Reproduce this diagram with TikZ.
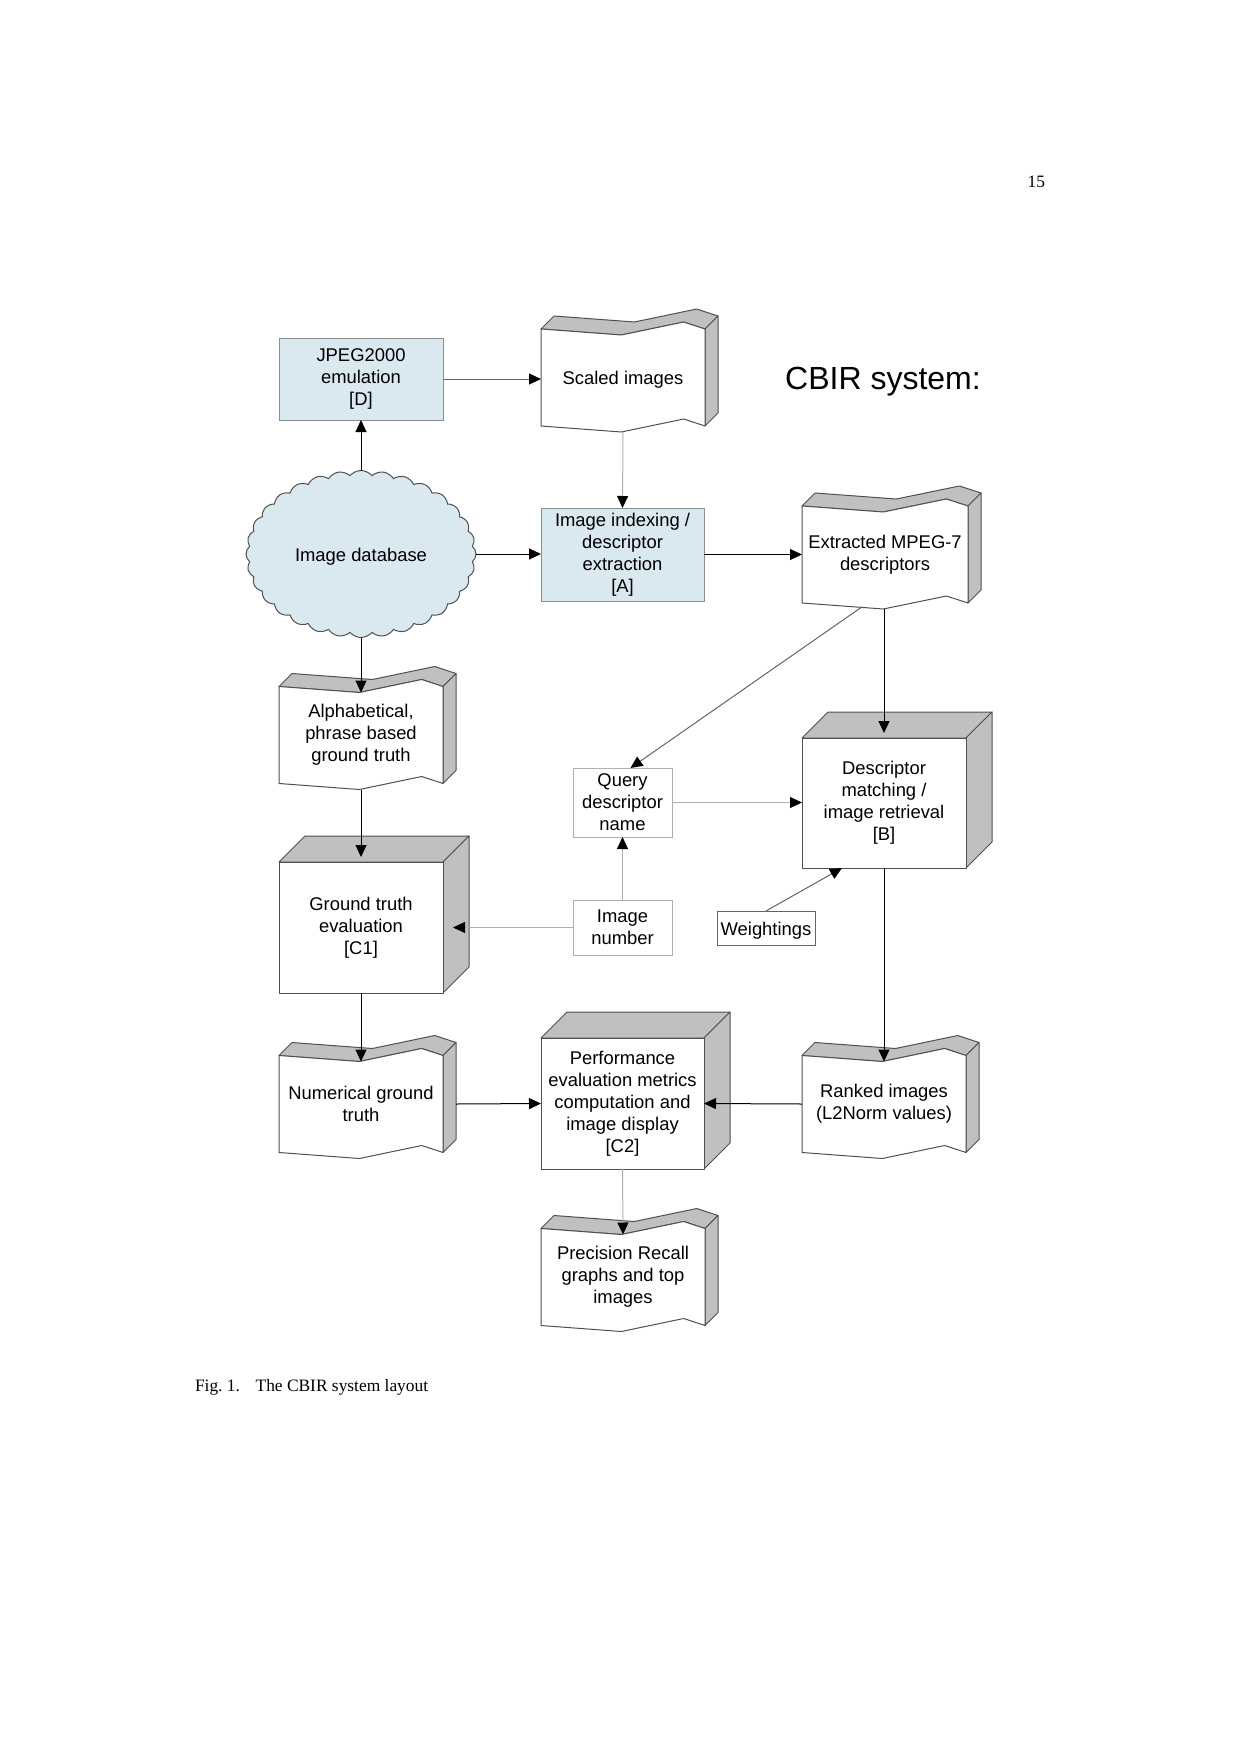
\documentclass[tikz,border=0pt]{standalone}
\usepackage{fontspec}
\setmainfont{Liberation Sans}
\newfontfamily\seriffont{Liberation Serif}
\usetikzlibrary{calc,arrows.meta,shapes.symbols}
\pgfdeclarelayer{bg}
\pgfsetlayers{bg,main}
\definecolor{boxblue}{RGB}{218,232,240}
\definecolor{boxedge}{RGB}{140,140,140}
\definecolor{facegray}{RGB}{192,192,192}
\definecolor{edgegray}{RGB}{80,80,80}
\definecolor{linegray}{RGB}{175,175,175}
\definecolor{darkline}{RGB}{100,100,100}

\newcommand{\docfaces}[1]{%
 \path[sideface] (#1.north west)
   -- ($(#1.north west)!0.49!(#1.north east)+(0,6)$)
   -- ($(#1.north west)!0.87!(#1.north east)+(0,-7)$)
   -- (#1.north east) -- ($(#1.north east)+(13,-13)$)
   -- ($(#1.north west)!0.87!(#1.north east)+(13,-20)$)
   -- ($(#1.north west)!0.49!(#1.north east)+(13,-7)$)
   -- ($(#1.north west)+(13,-13)$) -- cycle;
 \path[sideface] (#1.north east) -- ($(#1.north east)+(13,-13)$)
   -- ($(#1.south east)+(13,-13)$) -- (#1.south east) -- cycle;
 \path[frontface] (#1.north west)
   -- ($(#1.north west)!0.49!(#1.north east)+(0,6)$)
   -- ($(#1.north west)!0.87!(#1.north east)+(0,-7)$)
   -- (#1.north east) -- (#1.south east)
   -- ($(#1.south west)!0.87!(#1.south east)+(0,-7)$)
   -- ($(#1.south west)!0.49!(#1.south east)+(0,6)$)
   -- (#1.south west) -- cycle;
}
\newcommand{\cubefaces}[1]{%
 \path[sideface] (#1.north west) -- ($(#1.north west)+(26,-26)$)
   -- ($(#1.north east)+(26,-26)$) -- (#1.north east) -- cycle;
 \path[sideface] (#1.north east) -- ($(#1.north east)+(26,-26)$)
   -- ($(#1.south east)+(26,-26)$) -- (#1.south east) -- cycle;
 \path[frontface] (#1.north west) rectangle (#1.south east);
}

\begin{document}
\begin{tikzpicture}[x=0.5pt,y=-0.5pt,
 lbl/.style={font=\fontsize{9.2}{11}\selectfont, align=center, inner sep=0pt, outer sep=0pt},
 boxtext/.style={lbl, execute at begin node={\rule{0pt}{9.2pt}}},
 shapebox/.style 2 args={boxtext, minimum width=#1, minimum height=#2},
 bluebox/.style={fill=boxblue, draw=boxedge, line width=0.5pt},
 thinbox/.style={draw=linegray, line width=0.5pt},
 darkbox/.style={draw=darkline, line width=0.5pt},
 sideface/.style={fill=facegray, draw=edgegray, line width=0.5pt, line join=round},
 frontface/.style={fill=white, draw=edgegray, line width=0.5pt, line join=round},
 tip/.style={-{Triangle[length=6pt,width=5.5pt,color=black]}},
 conblack/.style={tip, draw=black, line width=0.5pt},
 condark/.style={tip, draw=darkline, line width=0.5pt},
 conlight/.style={tip, draw=linegray, line width=0.5pt},
 serifsmall/.style={lbl, font=\seriffont\fontsize{8.7}{10}\selectfont},
]
\useasboundingbox (0,0) rectangle (1240,1755);

\node[shapebox={82pt}{41pt}, bluebox] (jpeg) at (361,379) {JPEG2000\\emulation\\{[D]}};
\node[shapebox={82pt}{48.5pt}] (scaled) at (623,377.5) {Scaled images};
\node[lbl, font=\fontsize{16}{19}\selectfont, yshift=-1.2pt] (title) at (883,379) {CBIR system:};
\node[cloud, cloud puffs=32, cloud puff arc=100, aspect=1.38, boxtext,
      minimum width=115pt, minimum height=83.5pt, fill=boxblue, draw=edgegray, line width=0.5pt]
      (db) at (361,554) {Image database};
\node[shapebox={81.5pt}{46.5pt}, bluebox] (index) at (622.5,554.5) {Image indexing /\\descriptor\\extraction\\{[A]}};
\node[shapebox={83pt}{48.5pt}] (extr) at (885,554.5) {Extracted MPEG-7\\descriptors};
\node[shapebox={82pt}{48.5pt}] (alpha) at (361,735) {Alphabetical,\\phrase based\\ground truth};
\node[shapebox={82pt}{65.5pt}] (gt) at (361,927.5) {Ground truth\\evaluation\\{[C1]}};
\node[shapebox={82pt}{65pt}] (match) at (884,803) {Descriptor\\matching /\\image retrieval\\{[B]}};
\node[shapebox={49.5pt}{34.5pt}, thinbox] (query) at (622.5,802.5) {Query\\descriptor\\name};
\node[shapebox={49.5pt}{27.5pt}, thinbox] (imgnum) at (622.5,927.5) {Image\\number};
\node[shapebox={49pt}{17pt}, darkbox] (weight) at (766,928) {Weightings};
\node[shapebox={82pt}{48.5pt}] (numgt) at (361,1104) {Numerical ground\\truth};
\node[shapebox={81.5pt}{65.5pt}] (perf) at (622.5,1103.5) {Performance\\evaluation metrics\\computation and\\image display\\{[C2]}};
\node[shapebox={82pt}{48.5pt}] (ranked) at (884,1104) {Ranked images\\(L2Norm values)};
\node[shapebox={82pt}{48.5pt}] (prec) at (623,1277) {Precision Recall\\graphs and top\\images};

\node[serifsmall, anchor=base west] (caption) at (195,1391) {Fig.~1.\hspace{0.9em}The CBIR system layout};
\node[serifsmall, anchor=base east] (pagenum) at (1045,188) {15};

\begin{pgfonlayer}{bg}
 \docfaces{scaled}
 \docfaces{extr}
 \docfaces{alpha}
 \docfaces{numgt}
 \docfaces{ranked}
 \docfaces{prec}
 \cubefaces{gt}
 \cubefaces{match}
 \cubefaces{perf}
\end{pgfonlayer}

\draw[conblack] (db.north) -- (jpeg.south);
\draw[condark] (jpeg.east) -- (jpeg.east -| scaled.west);
\draw[conlight] ($(scaled.south)+(0,6)$) -- (index.north);
\draw[conblack] (db.east) -- (db.east -| index.west);
\draw[conblack] (index.east) -- (index.east -| extr.west);
\coordinate (extrbot) at ($(extr.south)+(0,6)$);
\draw[conblack] (extrbot -| match.north) -- ($(match.north)+(0,-5)$);
\draw[condark] ($(extr.south west)!0.36!(extr.south east)+(0,4)$) -- ($(query.north)+(8,0)$);
\draw[conlight] (query.east) -- (query.east -| match.west);
\draw[conlight] (imgnum.north) -- (query.south);
\draw[conlight] (imgnum.west) -- ($(gt.east)+(10,0)$);
\draw[condark] (weight.north) -- ($(match.south west)+(40,0)$);
\draw[conblack] (match.south) -- ($(ranked.north)+(0,6)$);
\draw[conblack] (db.south) -- ($(alpha.north)+(0,6)$);
\draw[conblack] ($(alpha.south)+(0,6)$) -- ($(gt.north)+(0,-5)$);
\draw[conblack] (gt.south) -- ($(numgt.north)+(0,6)$);
\draw[conblack] ($(numgt.east)+(13,0)$) -- (perf.west);
\draw[conblack] (ranked.west) -- (perf.east);
\draw[conlight] (perf.south) -- ($(prec.north)+(0,6)$);
\end{tikzpicture}
\end{document}
